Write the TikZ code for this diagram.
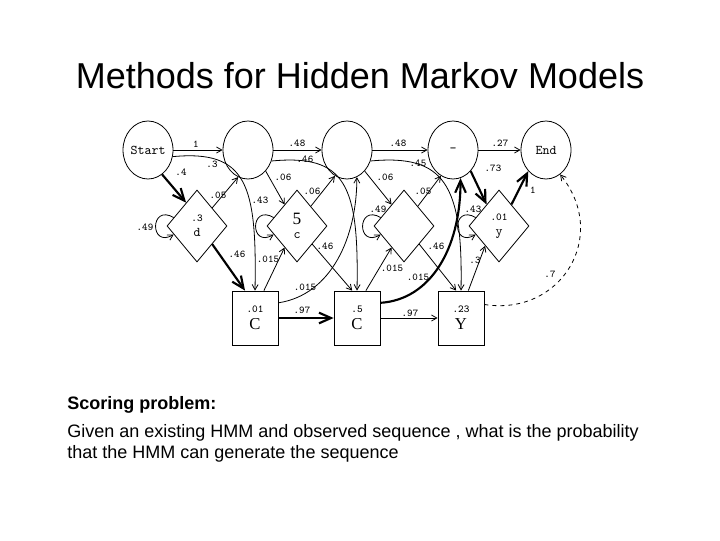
\documentclass[tikz,border=0pt]{standalone}
\usepackage{fontspec}
\setmainfont{Liberation Sans}
\newfontfamily\boxfont{Liberation Serif}
\usetikzlibrary{shapes.geometric,arrows.meta}

\tikzset{every picture/.style={line width=0.6pt}}
\tikzset{
  delstate/.style={draw, ellipse, minimum width=37.5pt, minimum height=43.5pt, inner sep=0pt, font=\ttfamily\fontsize{10}{12}\selectfont},
  insstate/.style={draw, diamond, minimum width=45pt, minimum height=54pt, inner sep=0pt, align=center, font=\ttfamily\fontsize{10}{11}\selectfont},
  matstate/.style={draw, rectangle, minimum width=34.5pt, minimum height=40.5pt, inner sep=0pt, align=center},
  prob/.style={inner sep=0.75pt, font=\ttfamily\fontsize{7.8}{9}\selectfont},
  arc/.style={-{Straight Barb[length=4pt,width=4.5pt]}},
  heavyarc/.style={line width=1.6pt, -{Straight Barb[length=9pt,width=8pt]}},
}

\begin{document}
\begin{tikzpicture}[x=0.75pt,y=0.75pt,yscale=-1,xscale=1]
\useasboundingbox (0,0) rectangle (720,540);

% Text Node
\draw (360,88) node [anchor=base, inner sep=0pt, font=\fontsize{27}{32}\selectfont] (title) {Methods for Hidden Markov Models};

%Shape: delete states [circles]
\draw (148,150) node [delstate] (start) {Start};
\draw (248,150) node [delstate] (del1) {};
\draw (347,150) node [delstate] (del2) {};
\draw (453,150) node [delstate] (del3) {-};
\draw (546,150) node [delstate] (end) {End};

%Shape: insert states [diamonds]
\draw (197,226) node [insstate] (ins0) {{\fontsize{8}{9}\selectfont .3}\\d};
\draw (297,226) node [insstate] (ins1) {{\boxfont\fontsize{13}{13}\selectfont 5}\\c};
\draw (404,226) node [insstate] (ins2) {};
\draw (499,226) node [insstate] (ins3) {{\fontsize{8}{9}\selectfont .01}\\y};

%Shape: match states [boxes]
\draw (255,318) node [matstate] (mat1) {{\ttfamily\fontsize{8}{9}\selectfont .01}\\[1pt]{\boxfont\fontsize{12.5}{12.5}\selectfont C}};
\draw (357,318) node [matstate] (mat2) {{\ttfamily\fontsize{8}{9}\selectfont .5}\\[1pt]{\boxfont\fontsize{12.5}{12.5}\selectfont C}};
\draw (461,318) node [matstate] (mat3) {{\ttfamily\fontsize{8}{9}\selectfont .23}\\[1pt]{\boxfont\fontsize{12.5}{12.5}\selectfont Y}};

%Straight Lines [top row]
\draw [arc] (start) -- (del1);
\draw [arc] (del1) -- (del2);
\draw [arc] (del2) -- (del3);
\draw [arc] (del3) -- (end);

%Straight Lines [to and from inserts]
\draw [heavyarc] (start.-60) -- (ins0.115);
\draw [arc] (ins0.50) -- (del1.-110);
\draw [heavyarc] (ins0.-50) -- (mat1.110);
\draw [arc] (del1.-50) -- (ins1.120);
\draw [arc] (ins1.55) -- (del2.-115);
\draw [arc] (ins1.-50) -- (mat2.100);
\draw [arc] (mat1.72) -- (ins1.-120);
\draw [arc] (del2.-50) -- (ins2.120);
\draw [arc] (ins2.55) -- (del3.-115);
\draw [arc] (ins2.-50) -- (mat3.100);
\draw [arc] (mat2.72) -- (ins2.-120);
\draw [heavyarc] (del3.-50) -- (ins3.120);
\draw [heavyarc] (ins3.60) -- (end.-130);
\draw [arc] (mat3.75) -- (ins3.-125);

%Straight Lines [match to match]
\draw [heavyarc] (mat1) -- (mat2);
\draw [arc] (mat2) -- (mat3);

%Curve Lines [self loops]
\draw [arc] (ins0.160) .. controls +(-24,-14) and +(-24,14) .. (ins0.200);
\draw [arc] (ins1.160) .. controls +(-24,-14) and +(-24,14) .. (ins1.200);
\draw [arc] (ins2.160) .. controls +(-24,-14) and +(-24,14) .. (ins2.200);
\draw [arc] (ins3.160) .. controls +(-24,-14) and +(-24,14) .. (ins3.200);

%Curve Lines [long jumps]
\draw [arc] (start.-15) .. controls +(74,-7) and +(2,-106) .. (mat1.north);
\draw [arc] (del1.-25) .. controls +(74,-7) and +(2,-106) .. (mat2.north);
\draw [arc] (del2.-25) .. controls +(74,-7) and +(2,-106) .. (mat3.north);
\draw [arc] (mat1.33) .. controls +(53,-8) and +(0,60) .. (del2.-70);
\draw [heavyarc] (mat2.33) .. controls +(49,-3) and +(0,72) .. (del3.-75);
\draw [arc, dashed] (mat3.30) .. controls +(76,12) and +(50,62) .. (end.-60);

% Text Node [probabilities]
\draw (196,144) node [prob] (pStartDel) {1};
\draw (297,143) node [prob] (pDelOne) {.48};
\draw (398,143) node [prob] (pDelTwo) {.48};
\draw (500,143) node [prob] (pDelEnd) {.27};
\draw (212,164) node [prob] (pStartMat) {.3};
\draw (181,172) node [prob] (pStartIns) {.4};
\draw (145,227) node [prob] (pLoopZero) {.49};
\draw (218,195) node [prob] (pInsZeroDel) {.05};
\draw (237,254) node [prob] (pInsZeroMat) {.46};
\draw (305,159) node [prob] (pDelOneMat) {.46};
\draw (283,177) node [prob] (pDelOneIns) {.06};
\draw (312,191) node [prob] (pInsOneDel) {.06};
\draw (260,200) node [prob] (pLoopOne) {.43};
\draw (325,246) node [prob] (pInsOneMat) {.46};
\draw (268,259) node [prob] (pMatOneIns) {.015};
\draw (305,287) node [prob] (pMatOneDel) {.015};
\draw (302,310) node [prob] (pMatOneMat) {.97};
\draw (418,163) node [prob] (pDelTwoMat) {.45};
\draw (385,177) node [prob] (pDelTwoIns) {.06};
\draw (423,191) node [prob] (pInsTwoDel) {.05};
\draw (378,209) node [prob] (pLoopTwo) {.49};
\draw (436,246) node [prob] (pInsTwoMat) {.46};
\draw (392,268) node [prob] (pMatTwoIns) {.015};
\draw (418,277) node [prob] (pMatTwoDel) {.015};
\draw (410,313) node [prob] (pMatTwoMat) {.97};
\draw (493,168) node [prob] (pDelThreeIns) {.73};
\draw (473,209) node [prob] (pLoopThree) {.43};
\draw (533,190) node [prob] (pInsThreeEnd) {1};
\draw (475,260) node [prob] (pMatThreeIns) {.3};
\draw (550,274) node [prob] (pMatThreeEnd) {.7};

% Text Node
\draw (67,409) node [anchor=base west, inner sep=0pt, font=\bfseries\fontsize{13.5}{16}\selectfont] (scoring) {Scoring problem:};
% Text Node
\draw (67,437) node [anchor=base west, inner sep=0pt, font=\fontsize{13.5}{16}\selectfont] (given) {Given an existing HMM and observed sequence , what is the probability};
% Text Node
\draw (67,458) node [anchor=base west, inner sep=0pt, font=\fontsize{13.5}{16}\selectfont] (that) {that the HMM can generate the sequence};
\end{tikzpicture}
\end{document}
